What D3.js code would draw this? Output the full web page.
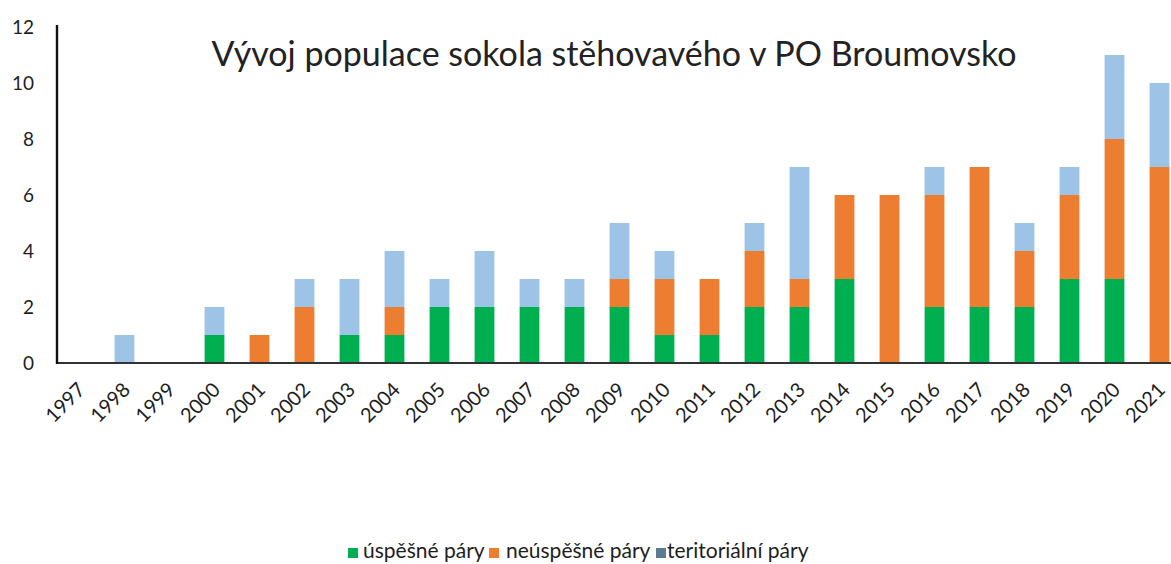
<!DOCTYPE html>
<html>
<head>
<meta charset="utf-8">
<script src="https://cdn.jsdelivr.net/npm/d3@7"></script>
<style>
  html, body { margin: 0; padding: 0; background: #fff; overflow: hidden; }
  svg { display: block; font-family: Lato, "Open Sans", sans-serif; }
</style>
</head>
<body>
<div id="chart"></div>
<script>
const years = ['1997','1998','1999','2000','2001','2002','2003','2004','2005','2006','2007','2008',
  '2009','2010','2011','2012','2013','2014','2015','2016','2017','2018','2019','2020','2021'];
const uspesne   = [0,0,0,1,0,0,1,1,2,2,2,2,2,1,1,2,2,3,0,2,2,2,3,3,0];
const neuspesne = [0,0,0,0,1,2,0,1,0,0,0,0,1,2,2,2,1,3,6,4,5,2,3,5,7];
const teritor   = [0,1,0,1,0,1,2,2,1,2,1,1,2,1,0,1,4,0,0,1,0,1,1,3,3];
const yTicks = [0,2,4,6,8,10,12];
const seriesNames = ['úspěšné páry', 'neúspěšné páry', 'teritoriální páry'];

const COLORS = { green: '#00b050', orange: '#ed7d31', blue: '#9dc3e6', legendBlue: '#5b7a94', ink: '#1e1e1e' };

const W = 1171, H = 564;
const svg = d3.select('#chart').append('svg').attr('width', W).attr('height', H);

const x = d3.scaleBand().domain(years).range([57, 1182]).paddingInner(0.56).paddingOuter(0.28);
const y = d3.scaleLinear().domain([0, 12]).range([363, 27]);

const rows = years.map((yr, i) => ({ year: yr, a: uspesne[i], b: neuspesne[i], c: teritor[i] }));
const stack = d3.stack().keys(['a', 'b', 'c'])(rows);
const fills = [COLORS.green, COLORS.orange, COLORS.blue];

svg.append('g').selectAll('g').data(stack).join('g')
  .attr('fill', (d, i) => fills[i])
  .selectAll('rect').data(d => d).join('rect')
  .attr('x', d => x(d.data.year))
  .attr('width', x.bandwidth())
  .attr('y', d => y(d[1]))
  .attr('height', d => y(d[0]) - y(d[1]));

// axes
svg.append('line').attr('x1', 57).attr('x2', W).attr('y1', y(0)).attr('y2', y(0))
  .attr('stroke', '#333').attr('stroke-width', 2.2);
svg.append('line').attr('x1', 57).attr('x2', 57).attr('y1', y(12) - 2).attr('y2', y(0) + 1)
  .attr('stroke', '#111').attr('stroke-width', 2.4);

svg.append('g').selectAll('text').data(yTicks).join('text')
  .attr('x', 34).attr('y', d => y(d)).attr('dy', '0.36em')
  .attr('text-anchor', 'end').attr('font-size', 19).attr('fill', COLORS.ink)
  .text(d => d);

svg.append('g').selectAll('text').data(years).join('text')
  .attr('transform', d => `translate(${x(d) + x.bandwidth() / 2 + 7},${391}) rotate(-45)`)
  .attr('text-anchor', 'end').attr('font-size', 20).attr('fill', COLORS.ink)
  .text(d => d);

// title
svg.append('text').attr('x', 614).attr('y', 66).attr('text-anchor', 'middle')
  .attr('font-size', 34).attr('fill', '#222')
  .text('Vývoj populace sokola stěhovavého v PO Broumovsko');

// legend
const legendColors = [COLORS.green, COLORS.orange, COLORS.legendBlue];
const markerX = [348, 489, 656];
const textX = [363, 506, 667];
const lg = svg.append('g');
seriesNames.forEach((name, i) => {
  lg.append('rect').attr('x', markerX[i]).attr('y', 548).attr('width', 10).attr('height', 10)
    .attr('fill', legendColors[i]);
  lg.append('text').attr('x', textX[i]).attr('y', 558)
    .attr('font-size', 21).attr('fill', COLORS.ink).text(name);
});
</script>
</body>
</html>
